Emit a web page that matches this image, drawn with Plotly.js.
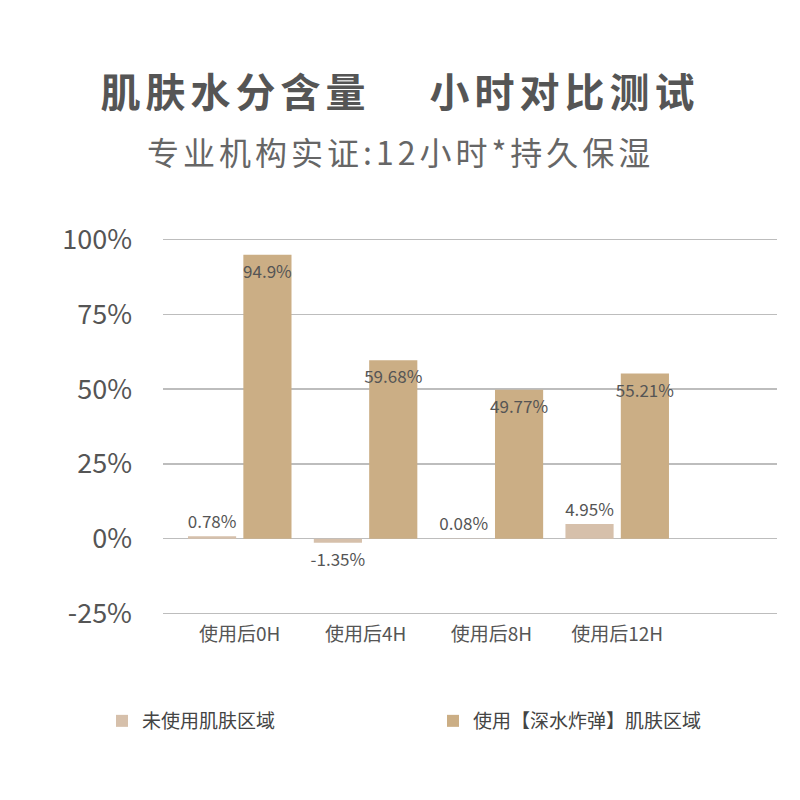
<!DOCTYPE html>
<html>
<head>
<meta charset="utf-8">
<script src="https://cdn.plot.ly/plotly-3.0.1.min.js"></script>
<style>
  body { margin: 0; background: #fff; }
  #chart { width: 800px; height: 800px; }
  #chart .gtitle { letter-spacing: 5px; }
  #chart .annotation-text { letter-spacing: 4px; }
</style>
</head>
<body>
<div id="chart"></div>
<script>
// ----------------------------- chart data ------------------------------------
var categories = ["使用后0H", "使用后4H", "使用后8H", "使用后12H"];
var untreated = [0.78, -1.35, 0.08, 4.95];
var treated = [94.9, 59.68, 49.77, 55.21];
var seriesNames = ["未使用肌肤区域", "使用【深水炸弹】肌肤区域"];
var yTicks = [-25, 0, 25, 50, 75, 100];
var yTickLabels = ["-25%", "0%", "25%", "50%", "75%", "100%"];
var titleText = "肌肤水分含量　 小时对比测试";
var subtitleText = "专业机构实证:12小时*持久保湿";
// =============================================================================

var FONT = '"Noto Sans CJK SC", "Noto Sans", sans-serif';

// plot area in pixels, used to place the subtitle in paper units
var plotTop = 237.5, plotBottom = 615.5;
function paperY(py) {
  return (plotBottom - py) / (plotBottom - plotTop);
}

function pct(v) { return v + "%"; }

var data = [{
  type: "bar",
  x: categories,
  y: untreated,
  name: seriesNames[0],
  legend: "legend",
  marker: { color: "#d6c0ab" },
  text: untreated.map(pct),
  texttemplate: "%{text}",
  textposition: "outside",
  constraintext: "none",
  cliponaxis: false,
  textfont: { family: FONT, size: 17, color: "#555" },
  hoverinfo: "none"
}, {
  type: "bar",
  x: categories,
  y: treated,
  name: seriesNames[1],
  legend: "legend2",
  marker: { color: "#cbae85" },
  text: treated.map(pct),
  texttemplate: "%{text}",
  textposition: "inside",
  insidetextanchor: "end",
  textangle: 0,
  constraintext: "none",
  textfont: { family: FONT, size: 17, color: "#555" },
  hoverinfo: "none"
}];

function legendAt(px) {
  return {
    orientation: "h",
    xref: "container",
    yref: "container",
    x: px / 800,
    xanchor: "left",
    y: 1 - 721 / 800,
    yanchor: "middle",
    itemwidth: 30,
    bgcolor: "rgba(0,0,0,0)",
    font: { family: FONT, size: 19, color: "#444" }
  };
}

var layout = {
  width: 800,
  height: 800,
  paper_bgcolor: "#fff",
  plot_bgcolor: "#fff",
  margin: { l: 163, r: 23, t: plotTop, b: 800 - plotBottom },
  font: { family: FONT, color: "#555" },
  barmode: "group",
  bargap: 0.12,
  bargroupgap: 0.13,
  showlegend: true,
  title: {
    text: titleText,
    x: 0.5,
    xanchor: "center",
    y: 1 - 93 / 800,
    yref: "container",
    yanchor: "middle",
    font: { family: FONT, size: 40, color: "#555", weight: "bold" }
  },
  annotations: [{
    text: subtitleText,
    xref: "paper",
    yref: "paper",
    x: (400 - 163) / 614,
    xanchor: "center",
    y: paperY(150),
    yanchor: "middle",
    showarrow: false,
    font: { family: FONT, size: 32, color: "#666" }
  }],
  xaxis: {
    type: "category",
    range: [-0.61, 4.27],
    showgrid: false,
    zeroline: false,
    showline: false,
    ticks: "",
    ticklabelstandoff: 6,
    tickfont: { family: FONT, size: 19, color: "#555" }
  },
  yaxis: {
    range: [-25.5, 100.5],
    tickvals: yTicks,
    ticktext: yTickLabels,
    showgrid: true,
    gridcolor: "#bdbdbd",
    gridwidth: 1.5,
    zeroline: false,
    showline: false,
    ticks: "",
    ticklabelstandoff: 30,
    tickfont: { family: FONT, size: 27, color: "#555" }
  },
  legend: legendAt(102),
  legend2: legendAt(433)
};

Plotly.newPlot("chart", data, layout, { staticPlot: true });
</script>
</body>
</html>
